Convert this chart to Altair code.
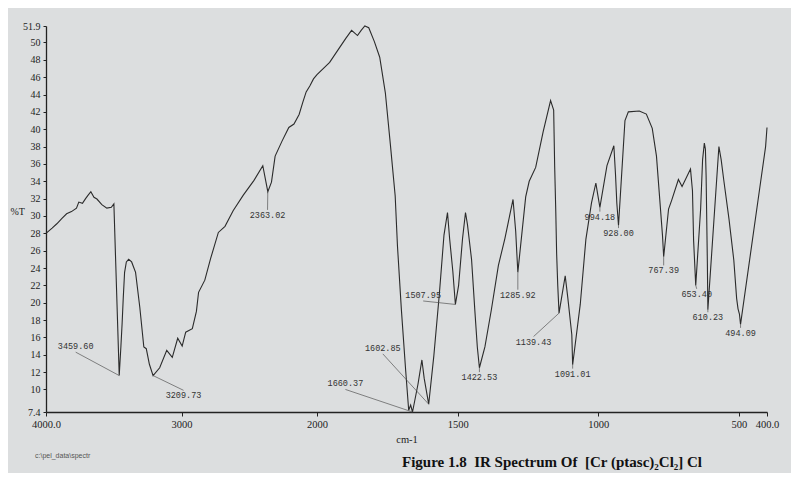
import altair as alt
import pandas as pd

# ---- spectrum (wavenumber in cm-1, %T) ----
wavenumber = [
    4000, 3955, 3920, 3884, 3848, 3812, 3775, 3758, 3731, 3708, 3689, 3669, 3646, 3624, 3588, 3551, 3518, 3499,
    3459.6, 3447, 3438, 3430, 3420, 3407, 3390, 3368, 3339, 3308, 3278, 3260, 3237, 3209.73,
    3161, 3109, 3068, 3028, 2995, 2969, 2920, 2890, 2874, 2828, 2785, 2728, 2679, 2619, 2544, 2465, 2400,
    2363.02, 2336, 2309, 2259, 2208, 2170, 2132, 2105, 2080, 2052, 2026, 2000,
    1955, 1924, 1897, 1877, 1856, 1843, 1830, 1816, 1796, 1777, 1757, 1739, 1722, 1714, 1700, 1685, 1674,
    1667, 1660.37, 1641, 1627, 1619, 1602.85,
    1584.5, 1565, 1548.5, 1536, 1528.5, 1517, 1507.95, 1496.5, 1482.5, 1472, 1465, 1450.5, 1439, 1430, 1422.53,
    1403, 1380.5, 1355, 1332, 1303, 1293.5, 1285.92, 1258, 1245.5, 1222.5, 1196, 1169.5, 1158.5, 1155, 1151,
    1148, 1144, 1139.43,
    1117.5, 1108, 1094, 1091.01, 1064, 1044, 1024, 1008.5, 1003, 994.18, 969, 944.5, 938.5, 934, 928.0,
    905, 893, 854, 829, 808, 793, 782, 771.5, 767.39, 750, 739, 715, 702, 672, 665, 661, 653.4,
    636, 629, 622.8, 619, 616.5, 614, 612, 610.23, 571, 563, 554, 535, 518, 508, 503, 498, 494.09, 405, 400,
]
transmittance = [
    28.0, 28.6, 29.1, 29.7, 30.25, 30.5, 30.9, 31.6, 31.45, 32.0, 32.4, 32.8, 32.15, 31.95, 31.3, 30.9, 31.0, 31.4,
    11.6, 15.0, 17.7, 20.5, 23.5, 24.7, 25.0, 24.7, 23.5, 19.5, 14.9, 14.7, 12.9, 11.6,
    12.5, 14.5, 13.7, 15.9, 15.0, 16.6, 17.0, 19.0, 21.2, 22.6, 25.1, 28.1, 28.8, 30.6, 32.4, 34.1, 35.8,
    32.8, 33.9, 36.9, 38.6, 40.2, 40.6, 41.7, 43.1, 44.3, 45.0, 45.8, 46.3,
    47.7, 49.2, 50.5, 51.4, 50.8, 51.4, 51.9, 51.7, 50.1, 48.3, 44.2, 38.2, 32.3, 26.6, 19.2, 12.3, 7.6,
    8.2, 7.4, 10.6, 13.4, 11.3, 8.3,
    13.9, 21.0, 27.8, 30.4, 27.4, 23.6, 19.8, 22.0, 27.4, 30.4, 29.0, 25.0, 19.2, 14.9, 12.5,
    14.9, 19.1, 24.3, 27.4, 31.9, 28.2, 23.5, 32.2, 34.0, 35.6, 39.7, 43.3, 42.2, 35.8, 30.5,
    25.7, 22.0, 18.8,
    23.1, 20.5, 16.3, 12.85, 19.8, 27.3, 31.5, 33.8, 32.7, 31.0, 35.8, 38.1, 34.7, 31.5, 28.9,
    41.0, 42.0, 42.1, 41.75, 40.1, 36.9, 32.2, 27.7, 25.3, 30.8, 31.8, 34.2, 33.4, 35.4, 32.9, 27.2, 22.0,
    30.8, 36.5, 38.4, 37.7, 34.6, 29.0, 24.5, 19.2, 38.0, 36.5, 34.2, 29.6, 24.9, 20.5, 19.3, 18.7, 17.5, 38.0, 40.2,
]

# ---- peak annotations ----
peak_text = ["3459.60", "3209.73", "2363.02", "1660.37", "1602.85", "1507.95", "1422.53", "1285.92",
             "1139.43", "1091.01", "994.18", "928.00", "767.39", "653.40", "610.23", "494.09"]
peak_wn = [3459.6, 3209.73, 2363.02, 1660.37, 1602.85, 1507.95, 1422.53, 1285.92,
           1139.43, 1091.01, 994.18, 928.0, 767.39, 653.4, 610.23, 494.09]
peak_T = [11.6, 11.6, 32.8, 7.4, 8.3, 19.8, 12.5, 23.5, 18.8, 12.85, 31.0, 28.9, 25.3, 22.0, 19.2, 17.5]
label_wn = [3781, 2985, 2365, 1899, 1766, 1622.5, 1422.53, 1285.92,
            1230, 1091.01, 994.18, 928.0, 767.39, 650, 610.23, 494.09]
label_T = [14.3, 9.9, 30.7, 10.0, 14.1, 20.2, 12.0, 21.5, 16.1, 12.4, 30.5, 28.6, 24.3, 21.6, 18.9, 17.1]
label_side = ["above", "below", "below", "above", "above", "above", "below", "below",
              "below", "below", "below", "below", "below", "below", "below", "below"]

x_ticks = [4000, 3000, 2000, 1500, 1000, 500, 400]
y_ticks = [7.4] + list(range(10, 52, 2)) + [51.9]

caption = "Figure 1.8\u00a0\u00a0IR Spectrum Of\u00a0\u00a0[Cr (ptasc)\u2082Cl\u2082] Cl"
path_text = "c:\\pel_data\\spectr"

W, H = 721, 386
spec = pd.DataFrame({"wn": wavenumber, "T": transmittance, "order": list(range(len(wavenumber)))})
ann = pd.DataFrame({"label": peak_text, "pwn": peak_wn, "pT": peak_T,
                    "lwn": label_wn, "lT": label_T, "side": label_side})

x_scale = alt.Scale(domain=[4000, 2000, 400], range=[0, 271, W], zero=False, nice=False)
y_scale = alt.Scale(domain=[7.4, 51.9], zero=False, nice=False)

x_axis = alt.Axis(values=x_ticks, title="cm-1", grid=False, labelFlush=False, labelOverlap=False,
                  labelExpr="datum.value == 4000 ? '4000.0' : datum.value == 400 ? '400.0' : '' + datum.value",
                  labelFont="Liberation Serif", labelFontSize=10.5, labelPadding=3, tickSize=4,
                  titleFont="Liberation Serif", titleFontSize=10.5, titleFontWeight="normal",
                  titleY=27, titleBaseline="middle", domainWidth=1.3)
y_axis = alt.Axis(values=y_ticks, title="%T", grid=False, labelOverlap=False,
                  labelExpr="'' + datum.value",
                  labelFont="Liberation Serif", labelFontSize=10, labelPadding=3, tickSize=3,
                  titleFont="Liberation Serif", titleFontSize=10, titleFontWeight="normal",
                  titleAngle=0, titleAlign="left", titleBaseline="middle", titleX=-36, titleY=185,
                  domainWidth=1.3)

X = lambda f: alt.X(f, type="quantitative", scale=x_scale, axis=x_axis)
Y = lambda f: alt.Y(f, type="quantitative", scale=y_scale, axis=y_axis)

line = alt.Chart(spec).mark_line(color="#2b2b2b", strokeWidth=1.1).encode(
    x=X("wn"), y=Y("T"), order="order:Q",
)

leaders = alt.Chart(ann).mark_rule(color="#555555", strokeWidth=0.7).encode(
    x=X("lwn"), x2="pwn:Q", y=Y("lT"), y2="pT:Q",
)

labels_above = alt.Chart(ann).transform_filter(alt.datum.side == "above").mark_text(
    font="Liberation Mono", fontSize=8.5, color="#333333", baseline="bottom", align="center", dy=-1
).encode(x=X("lwn"), y=Y("lT"), text="label:N")

labels_below = alt.Chart(ann).transform_filter(alt.datum.side == "below").mark_text(
    font="Liberation Mono", fontSize=8.5, color="#333333", baseline="top", align="center", dy=1
).encode(x=X("lwn"), y=Y("lT"), text="label:N")

cap = alt.Chart(pd.DataFrame({"t": [caption]})).mark_text(
    font="Liberation Serif", fontSize=15, fontWeight="bold", color="#111111", align="center", baseline="middle"
).encode(x=alt.value(506), y=alt.value(436), text="t:N")

path = alt.Chart(pd.DataFrame({"t": [path_text]})).mark_text(
    font="Liberation Sans", fontSize=7, color="#555555", align="left", baseline="middle"
).encode(x=alt.value(-11), y=alt.value(430), text="t:N")

chart = alt.layer(line, leaders, labels_above, labels_below, cap, path).properties(
    width=W, height=H,
    autosize=alt.AutoSizeParams(type="none"),
    padding={"left": 38, "top": 18, "right": 24, "bottom": 61},
    background="#dcdedf",
).configure_view(stroke=None).configure_axis(
    domainColor="#222222", tickColor="#222222", labelColor="#222222", titleColor="#222222"
)

chart.save("out.html", embed_options={"renderer": "svg", "actions": False})
